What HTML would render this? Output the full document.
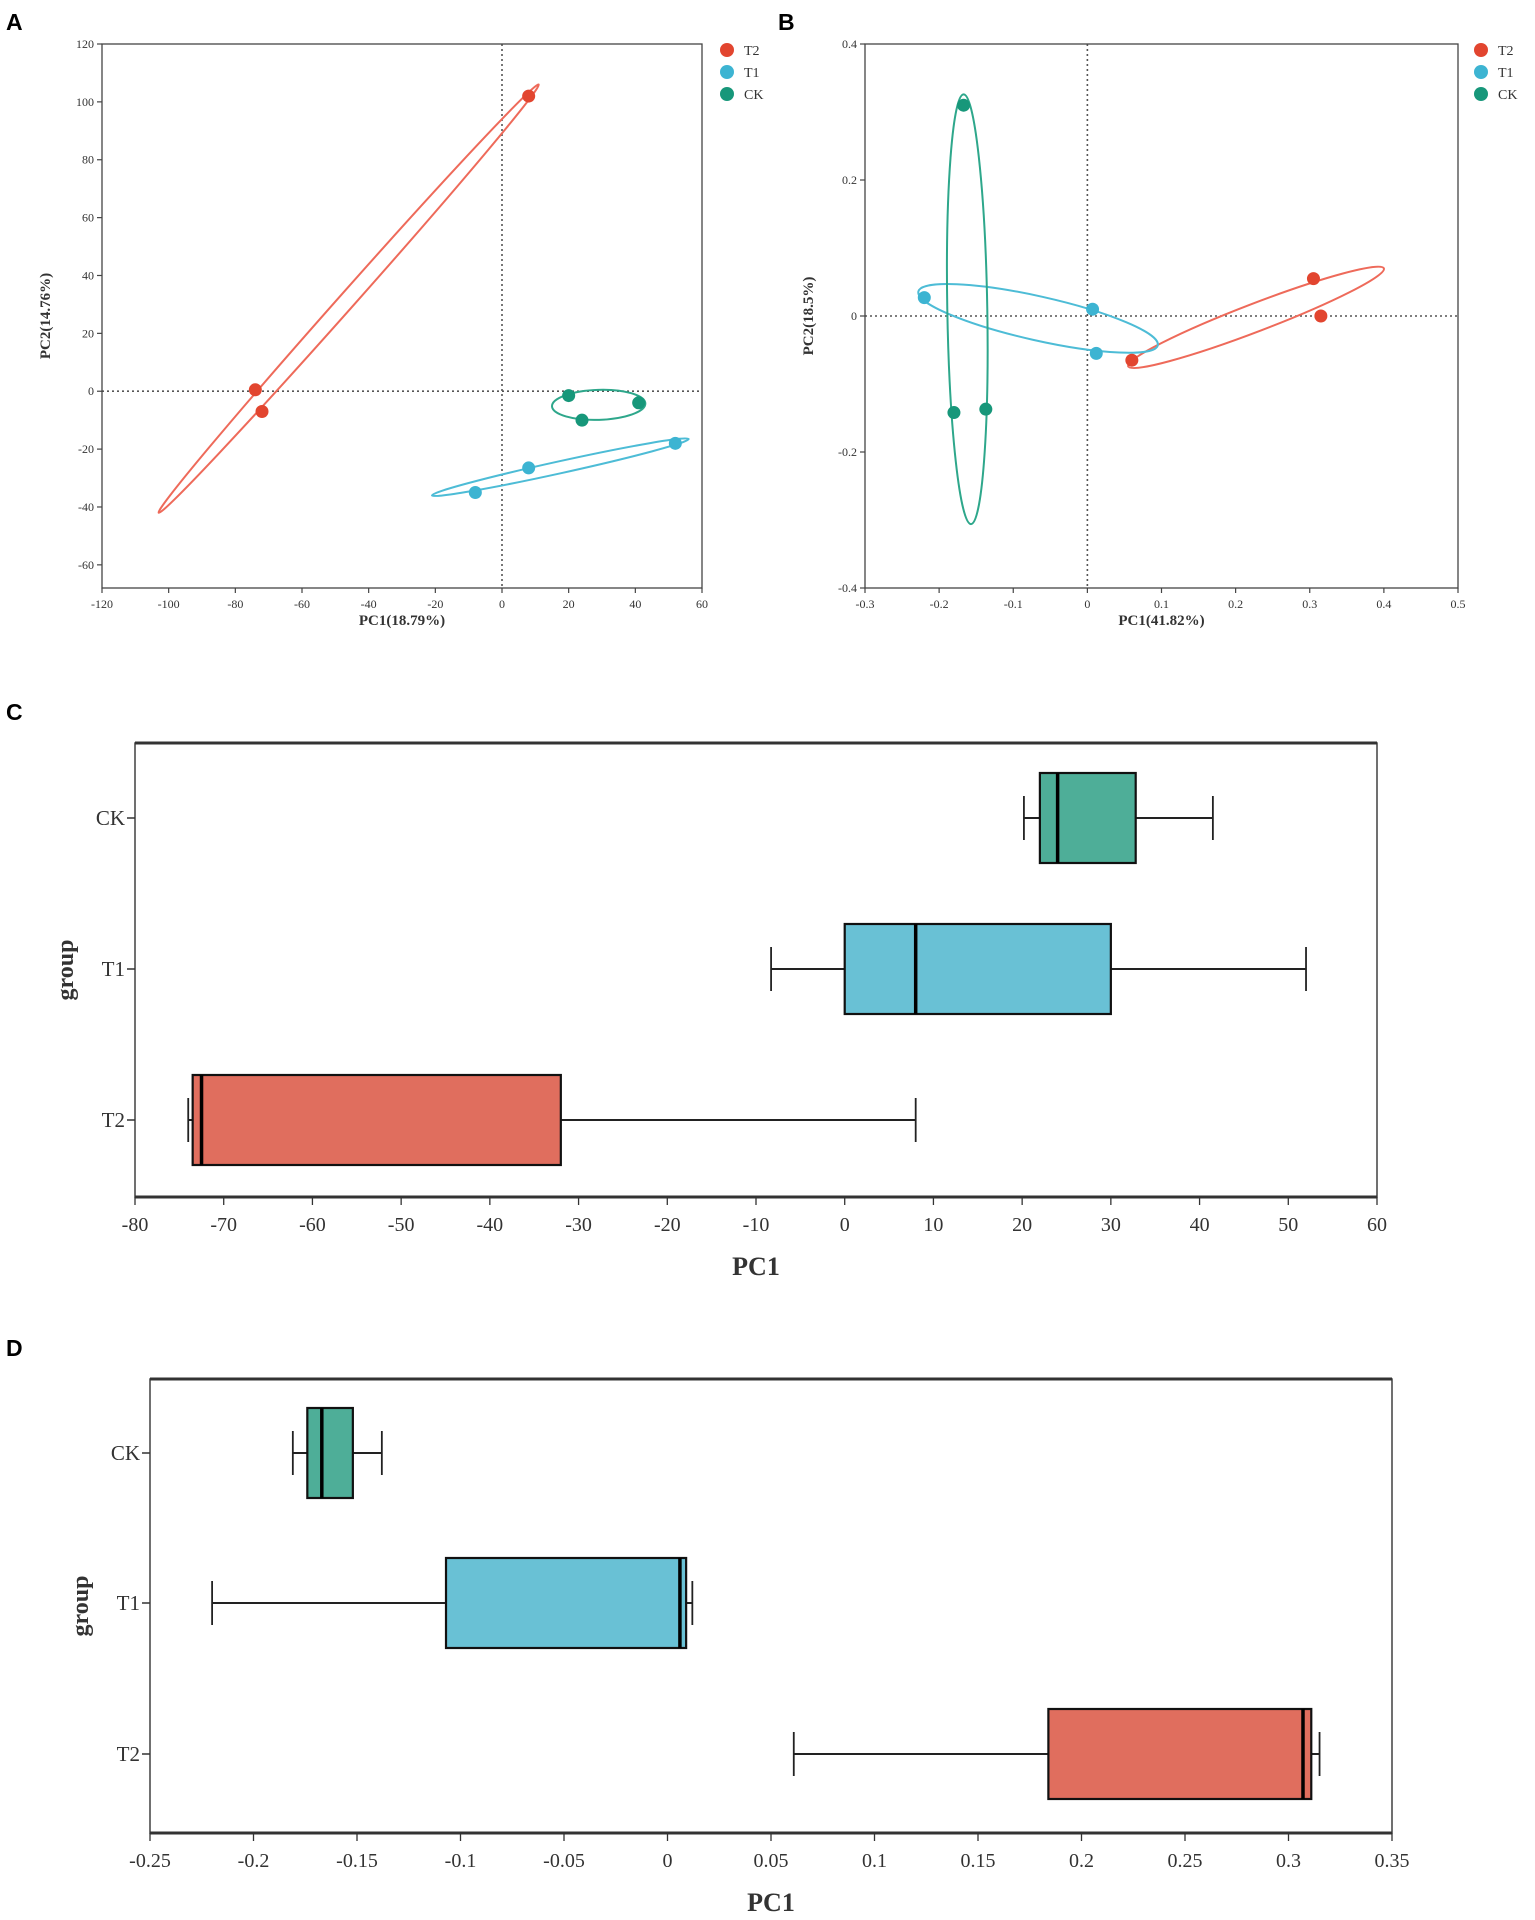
<!DOCTYPE html>
<html><head><meta charset="utf-8"><style>
html,body{margin:0;padding:0;background:#fff;}
svg{display:block;}
.tk{font-family:"Liberation Serif",serif;fill:#333;}
.pl{font-family:"Liberation Sans",sans-serif;font-weight:bold;font-size:23px;fill:#000;}
</style></head><body>
<svg id="fig" width="1535" height="1920" viewBox="0 0 1535 1920" xmlns="http://www.w3.org/2000/svg">
<text class="pl" x="6" y="30">A</text>
<text class="pl" x="778" y="30">B</text>
<text class="pl" x="6" y="720">C</text>
<text class="pl" x="6" y="1356">D</text>
</svg>
<script>
// ---------- data ----------
const groups = ["T2","T1","CK"];
const dotColors = ["#E2452F","#3DB4D2","#17977A"];
const ellColors = ["#EE6A5A","#4DBCD6","#2EA78B"];
// Panel A scores
const aT2x = [8,-74,-72];   const aT2y = [102,0.5,-7];
const aT1x = [52,8,-8];     const aT1y = [-18,-26.5,-35];
const aCKx = [20,41,24];    const aCKy = [-1.5,-4,-10];
// ellipse major-axis endpoints (data units) [x1,y1,x2,y2]
const aEllT2 = [-103,-42,11,106];
const aEllT1 = [-21,-36,56,-16.5];
const aEllCK = [15,-5.2,43,-4.2];
const aXTicks = [-120,-100,-80,-60,-40,-20,0,20,40,60];
const aYTicks = [120,100,80,60,40,20,0,-20,-40,-60];
// Panel B scores
const bT2x = [0.305,0.315,0.06]; const bT2y = [0.055,0.0,-0.065];
const bT1x = [-0.22,0.007,0.012]; const bT1y = [0.027,0.01,-0.055];
const bCKx = [-0.167,-0.18,-0.137]; const bCKy = [0.31,-0.142,-0.137];
const bEllT2 = [0.055,-0.074,0.4,0.07];
const bEllT1 = [-0.228,0.036,0.095,-0.043];
const bEllCK = [-0.167,0.326,-0.157,-0.306];
const bXTicks = [-0.3,-0.2,-0.1,0,0.1,0.2,0.3,0.4,0.5];
const bYTicks = [0.4,0.2,0,-0.2,-0.4];
// Panel C boxplots: [min,q1,median,q3,max]
const cCats = ["CK","T1","T2"];
const cCK = [20.2,22,24,32.8,41.5];
const cT1 = [-8.3,0,8,30,52];
const cT2 = [-74,-73.5,-72.5,-32,8];
const cTicks = [-80,-70,-60,-50,-40,-30,-20,-10,0,10,20,30,40,50,60];
// Panel D boxplots
const dCK = [-0.181,-0.174,-0.167,-0.152,-0.138];
const dT1 = [-0.22,-0.107,0.006,0.009,0.012];
const dT2 = [0.061,0.184,0.307,0.311,0.315];
const dTicks = [-0.25,-0.2,-0.15,-0.1,-0.05,0,0.05,0.1,0.15,0.2,0.25,0.3,0.35];
const boxFill = {CK:"#4EAE98",T1:"#69C1D5",T2:"#E06E5E"};

// ---------- helpers ----------
const NS="http://www.w3.org/2000/svg";
const svg=document.getElementById('fig');
function mk(tag,attrs,parent){const e=document.createElementNS(NS,tag);for(const k in attrs)e.setAttribute(k,attrs[k]);(parent||svg).appendChild(e);return e;}
function lin(d0,d1,r0,r1){return v=>r0+(v-d0)*(r1-r0)/(d1-d0);}

function scatter(p){
  const g=mk('g',{});
  
  
  const X=lin(p.xd[0],p.xd[1],p.L,p.R), Y=lin(p.yd[0],p.yd[1],p.B,p.T);
  // dotted zero lines
  const zx=mk('line',{x1:X(0),x2:X(0),y1:p.T,y2:p.B,stroke:'#555','stroke-width':1.6,'stroke-dasharray':'2,3'},g);
   
  const zy=mk('line',{x1:p.L,x2:p.R,y1:Y(0),y2:Y(0),stroke:'#555','stroke-width':1.6,'stroke-dasharray':'2,3'},g);
   
  // frame
  const fr=mk('rect',{x:p.L,y:p.T,width:p.R-p.L,height:p.B-p.T,fill:'none',stroke:'#444','stroke-width':1.3},g);
   
  p.xt.forEach(v=>{
    mk('line',{x1:X(v),x2:X(v),y1:p.B,y2:p.B+5,stroke:'#444','stroke-width':1.2},g);
    const t=mk('text',{x:X(v),y:p.B+20,'text-anchor':'middle','font-size':12,class:'tk'},g);
    t.textContent=String(v).replace('-0.','-.').replace(/^-\./,'-0.');
     
  });
  p.yt.forEach(v=>{
    mk('line',{x1:p.L-5,x2:p.L,y1:Y(v),y2:Y(v),stroke:'#444','stroke-width':1.2},g);
    const t=mk('text',{x:p.L-8,y:Y(v)+4,'text-anchor':'end','font-size':12,class:'tk'},g);
    t.textContent=String(v);
     
  });
  const xt=mk('text',{x:(p.L+p.R)/2,y:p.B+37,'text-anchor':'middle','font-size':15,'font-weight':'bold',class:'tk'},g);
  xt.textContent=p.xl;  
  const yc=(p.T+p.B)/2;
  const yt=mk('text',{x:p.L-52,y:yc,'text-anchor':'middle','font-size':15,'font-weight':'bold',class:'tk',transform:`rotate(-90 ${p.L-52} ${yc})`},g);
  yt.setAttribute('x',p.L-52); yt.textContent=p.yl;
   
  // ellipses
  p.ells.forEach((e,i)=>{
    const x1=X(e[0]),y1=Y(e[1]),x2=X(e[2]),y2=Y(e[3]);
    const cx=(x1+x2)/2,cy=(y1+y2)/2,rx=Math.hypot(x2-x1,y2-y1)/2;
    const ang=Math.atan2(y2-y1,x2-x1)*180/Math.PI;
    const el=mk('ellipse',{cx:cx,cy:cy,rx:rx,ry:p.hw[i],transform:`rotate(${ang} ${cx} ${cy})`,fill:'none',stroke:ellColors[i],'stroke-width':2},g);
    
    
  });
  p.pts.forEach((s,i)=>{
    s[0].forEach((xv,j)=>{
      const c=mk('circle',{cx:X(xv),cy:Y(s[1][j]),r:6.5,fill:dotColors[i]},g);
      
      
    });
  });
  groups.forEach((gname,i)=>{
    const c=mk('circle',{cx:p.lx,cy:p.ly+i*22,r:7,fill:dotColors[i]},g);
     
    const t=mk('text',{x:p.lx+17,y:p.ly+i*22+5,'font-size':14,class:'tk'},g);
    t.textContent=gname;
     
  });
}

scatter({name:'pca-plot-a',L:102,R:702,T:44,B:588,xd:[-120,60],yd:[-68,120],xt:aXTicks,yt:aYTicks,
  xl:'PC1(18.79%)',yl:'PC2(14.76%)',ells:[aEllT2,aEllT1,aEllCK],hw:[8,6,15],
  pts:[[aT2x,aT2y],[aT1x,aT1y],[aCKx,aCKy]],lx:727,ly:50});
scatter({name:'pca-plot-b',L:865,R:1458,T:44,B:588,xd:[-0.3,0.5],yd:[-0.4,0.4],xt:bXTicks,yt:bYTicks,
  xl:'PC1(41.82%)',yl:'PC2(18.5%)',ells:[bEllT2,bEllT1,bEllCK],hw:[14,22,20],
  pts:[[bT2x,bT2y],[bT1x,bT1y],[bCKx,bCKy]],lx:1481,ly:50});

function boxplot(p){
  const g=mk('g',{});
  
  
  const X=lin(p.xd[0],p.xd[1],p.L,p.R);
  const fr=mk('rect',{x:p.L,y:p.T,width:p.R-p.L,height:p.B-p.T,fill:'none',stroke:'#333','stroke-width':1.4},g);
   
  mk('line',{x1:p.L,x2:p.R,y1:p.T,y2:p.T,stroke:'#333','stroke-width':3},g);
  mk('line',{x1:p.L,x2:p.R,y1:p.B,y2:p.B,stroke:'#333','stroke-width':3},g);
  p.ticks.forEach(v=>{
    mk('line',{x1:X(v),x2:X(v),y1:p.B,y2:p.B+8,stroke:'#333','stroke-width':1.3},g);
    const t=mk('text',{x:X(v),y:p.B+34,'text-anchor':'middle','font-size':20,class:'tk'},g);
    t.textContent=String(v);
     
  });
  const xt=mk('text',{x:(p.L+p.R)/2,y:p.B+78,'text-anchor':'middle','font-size':26,'font-weight':'bold',class:'tk'},g);
  xt.textContent='PC1';  
  const yc=(p.T+p.B)/2, yx=p.L-62;
  const yt=mk('text',{x:yx,y:yc,'text-anchor':'middle','font-size':24,'font-weight':'bold',class:'tk',transform:`rotate(-90 ${yx} ${yc})`},g);
  yt.textContent='group';  
  p.cats.forEach((c,i)=>{
    const cy=p.cy[i], v=p.vals[i], h=45, cap=22;
    mk('line',{x1:p.L-8,x2:p.L,y1:cy,y2:cy,stroke:'#333','stroke-width':1.5},g);
    const t=mk('text',{x:p.L-10,y:cy+7,'text-anchor':'end','font-size':21,class:'tk'},g);
    t.textContent=c;  
    const bg=mk('g',{},g);
    
    
    mk('line',{x1:X(v[0]),x2:X(v[1]),y1:cy,y2:cy,stroke:'#222','stroke-width':2},bg);
    mk('line',{x1:X(v[3]),x2:X(v[4]),y1:cy,y2:cy,stroke:'#222','stroke-width':2},bg);
    mk('line',{x1:X(v[0]),x2:X(v[0]),y1:cy-cap,y2:cy+cap,stroke:'#222','stroke-width':1.8},bg);
    mk('line',{x1:X(v[4]),x2:X(v[4]),y1:cy-cap,y2:cy+cap,stroke:'#222','stroke-width':1.8},bg);
    mk('rect',{x:X(v[1]),y:cy-h,width:X(v[3])-X(v[1]),height:2*h,fill:boxFill[c],stroke:'#111','stroke-width':2.2},bg);
    mk('line',{x1:X(v[2]),x2:X(v[2]),y1:cy-h,y2:cy+h,stroke:'#000','stroke-width':3.5},bg);
  });
}
boxplot({name:'boxplot-c',L:135,R:1377,T:743,B:1197,xd:[-80,60],ticks:cTicks,cats:cCats,
  cy:[818,969,1120],vals:[cCK,cT1,cT2]});
boxplot({name:'boxplot-d',L:150,R:1392,T:1379,B:1833,xd:[-0.25,0.35],ticks:dTicks,cats:cCats,
  cy:[1453,1603,1754],vals:[dCK,dT1,dT2]});
</script>
</body></html>
